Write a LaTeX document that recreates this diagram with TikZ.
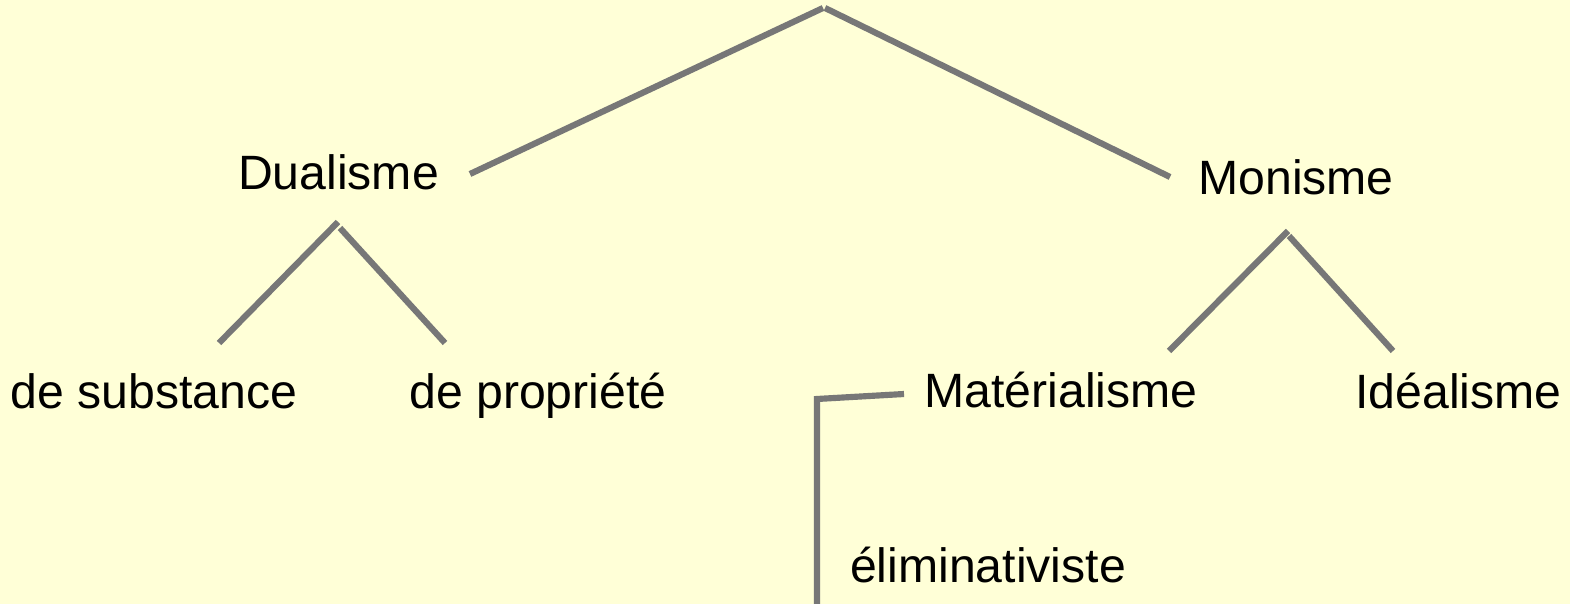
\documentclass[tikz,border=0pt]{standalone}
\usepackage{fontspec}
\setmainfont{Liberation Sans}
\definecolor{paper}{RGB}{255,255,215}
\definecolor{branchgray}{RGB}{119,119,119}
\tikzset{
  branch/.style={draw=branchgray,line width=1.75pt},
  term/.style={anchor=base,inner sep=0pt,font=\fontsize{13.7}{16}\selectfont}
}
\begin{document}
\begin{tikzpicture}[x=0.01cm,y=-0.01cm]
    \fill[paper] (0,0) rectangle (1570,604);
    \useasboundingbox (0,0) rectangle (1570,604);

    % terms
    \node[term] (dual) at (338.5,190) {Dualisme};
    \node[term] (mono) at (1296,195) {Monisme};
    \node[term] (subst) at (154,409) {de substance};
    \node[term] (prop) at (538,409) {de propriété};
    \node[term] (mat) at (1061,408) {Matérialisme};
    \node[term] (ideal) at (1458.5,409) {Idéalisme};
    \node[term] (elim) at (988,583) {éliminativiste};

    % line ends
    \coordinate (rootl) at (823,8);
    \coordinate (rootr) at (825,8);
    \coordinate (dualin) at (470,174);
    \coordinate (monoin) at (1170,177);
    \coordinate (dualoutl) at (338,222);
    \coordinate (dualoutr) at (340,228);
    \coordinate (substin) at (219,343);
    \coordinate (propin) at (445,343);
    \coordinate (monooutl) at (1288,231);
    \coordinate (monooutr) at (1289,236);
    \coordinate (matin) at (1169,351);
    \coordinate (idealin) at (1393,351);
    \coordinate (matout) at (904,394);
    \coordinate (elimbend) at (817,399);
    \coordinate (elimin) at (817,604);

    \draw[branch] (dualin) -- (rootl);
    \draw[branch] (rootr) -- (monoin);
    \draw[branch] (substin) -- (dualoutl);
    \draw[branch] (dualoutr) -- (propin);
    \draw[branch] (matin) -- (monooutl);
    \draw[branch] (monooutr) -- (idealin);
    \draw[branch] (matout) -- (elimbend) -- (elimin);
\end{tikzpicture}
\end{document}
